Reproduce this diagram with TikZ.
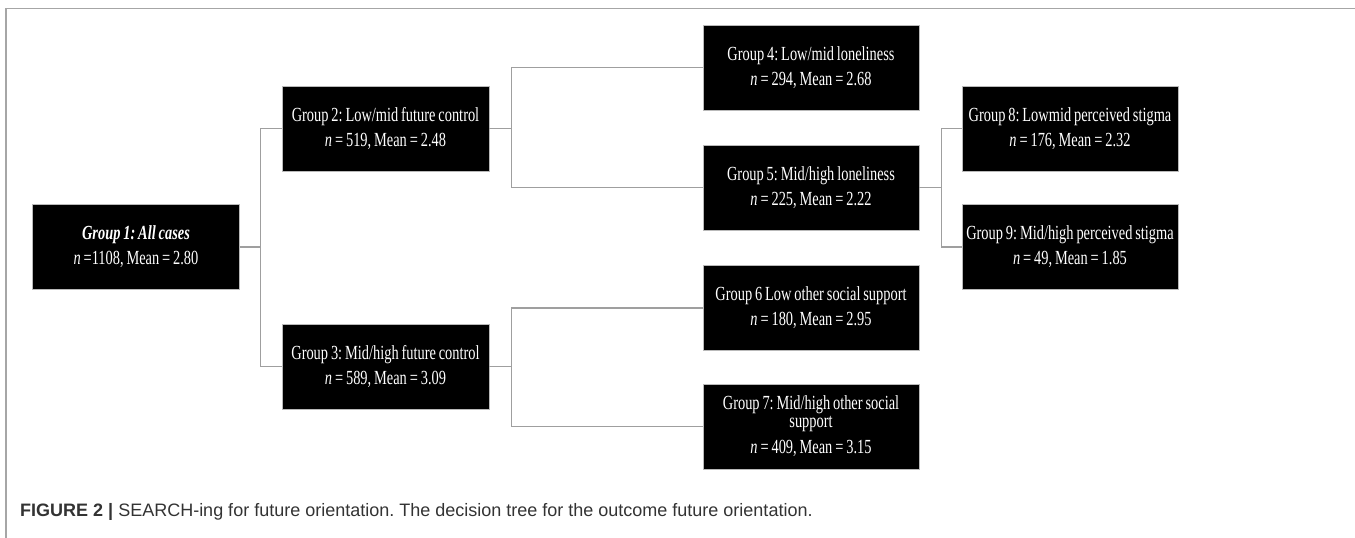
\documentclass[tikz,border=0pt]{standalone}
\usepackage{fontspec}
\newfontfamily\boxfont[FakeStretch=0.72, WordSpace=0.8]{Liberation Serif}
\newfontfamily\capfont{Liberation Sans}
\newcommand\grpfont{\boxfont\fontsize{20}{25}\selectfont}
\newcommand\grpfonttight{\boxfont\fontsize{20}{18}\selectfont}
\usetikzlibrary{positioning}

\begin{document}
\frenchspacing
\begin{tikzpicture}[
    x=1pt, y=-1pt,
    grp/.style={rectangle, fill=black, draw=gray!55, line width=0.6pt, text=white,
        minimum height=85pt, inner sep=2pt, align=flush center, font=\grpfont},
    narrow/.style={grp, text width=203pt},
    wide/.style={grp, text width=212pt},
    link/.style={draw=gray!75, line width=1.2pt}
]
\useasboundingbox (0,0) rectangle (1355,538);

% ============================================
% MARCO
% ============================================
\draw[gray!70, line width=1.3pt] (1355,8.5) -- (6,8.5) -- (6,538);

% ============================================
% NIVEL 1
% ============================================
\node[narrow] (g1) at (136, 247) {\mbox{\textbf{\textit{Group 1: All cases}}}\\\textit{n} =1108, Mean = 2.80};

% ============================================
% NIVEL 2: future control
% ============================================
\node[narrow] (g2) at (385.5, 128.5) {\mbox{Group 2: Low/mid future control}\\\textit{n} = 519, Mean = 2.48};
\node[narrow] (g3) at (385.5, 366.5) {\mbox{Group 3: Mid/high future control}\\\textit{n} = 589, Mean = 3.09};

% ============================================
% NIVEL 3: loneliness / other social support
% ============================================
\node[wide] (g4) at (811, 67.5) {\mbox{Group 4: Low/mid loneliness}\\\textit{n} = 294, Mean = 2.68};
\node[wide] (g5) at (811, 187.5) {\mbox{Group 5: Mid/high loneliness}\\\textit{n} = 225, Mean = 2.22};
\node[wide] (g6) at (811, 308) {\mbox{Group 6 Low other social support}\\\textit{n} = 180, Mean = 2.95};
\node[wide, font=\grpfonttight] (g7) at (811, 426.5)
    {Group 7: Mid/high other social\\support\\[8pt]\textit{n} = 409, Mean = 3.15};

% ============================================
% NIVEL 4: perceived stigma
% ============================================
\node[wide] (g8) at (1070, 128.5) {\mbox{Group 8: Lowmid perceived stigma}\\\textit{n} = 176, Mean = 2.32};
\node[wide] (g9) at (1070, 247) {\mbox{Group 9: Mid/high perceived stigma}\\\textit{n} = 49, Mean = 1.85};

% ============================================
% CONEXIONES
% ============================================
\draw[link] (g1.east) -- ++(21,0) |- (g2.west);
\draw[link] (g1.east) -- ++(21,0) |- (g3.west);
\draw[link] (g2.east) -- ++(22,0) |- (g4.west);
\draw[link] (g2.east) -- ++(22,0) |- (g5.west);
\draw[link] (g3.east) -- ++(22,0) |- (g6.west);
\draw[link] (g3.east) -- ++(22,0) |- (g7.west);
\draw[link] (g5.east) -- ++(22,0) |- (g8.west);
\draw[link] (g5.east) -- ++(22,0) |- (g9.west);

% Pie de figura
\node[anchor=base west, inner sep=0, text=black!80, font=\capfont\fontsize{18}{20}\selectfont] (cap) at (20, 516)
    {\textbf{FIGURE 2 |} SEARCH-ing for future orientation. The decision tree for the outcome future orientation.};

\end{tikzpicture}
\end{document}
